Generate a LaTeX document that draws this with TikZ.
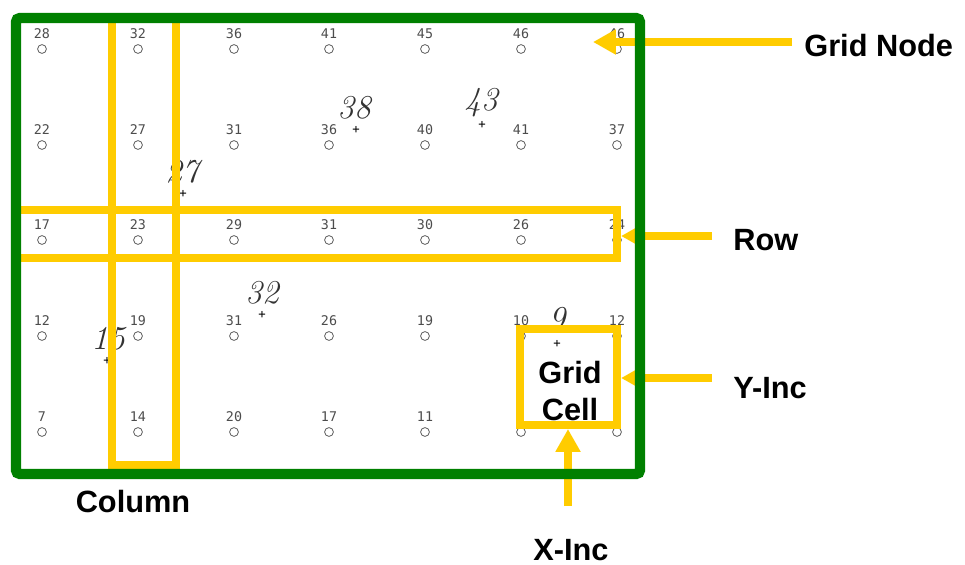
\documentclass[tikz,border=0pt]{standalone}
\usepackage{fontspec}
\usepackage{tikz}
\usetikzlibrary{arrows.meta,positioning}
\newfontfamily\labelfont{Liberation Sans}
\newfontfamily\gridfont{DejaVu Sans Mono}
\definecolor{framegreen}{RGB}{0,128,0}
\definecolor{markyellow}{RGB}{255,204,0}

\tikzset{
  gnode/.style={circle,draw=black!70,thin,inner sep=0pt,minimum size=5pt},
  glabel/.style={font=\gridfont\fontsize{7.6}{8}\selectfont,text=black!70,inner sep=0.5pt,label distance=2.5pt},
  estim/.style={font=\fontsize{19}{19}\selectfont\itshape,text=black!80,inner sep=0pt},
  cross/.style={font=\gridfont\fontsize{7}{7}\selectfont,inner sep=0pt},
  hilite/.style={draw=markyellow,line width=4.5pt},
  pointer/.style={draw=markyellow,line width=4.5pt,-{Triangle[length=13pt,width=13.5pt]}},
  tag/.style={font=\labelfont\bfseries\fontsize{17.5}{21}\selectfont,inner sep=0pt},
}

\begin{document}
\begin{tikzpicture}[x=0.02cm,y=-0.02cm]
        \useasboundingbox (0,0) rectangle (965,565);
        %Grid nodes
        \node[gnode,label={[glabel]above:28}] (n11) at (42,49) {};
        \node[gnode,label={[glabel]above:32}] (n12) at (138,49) {};
        \node[gnode,label={[glabel]above:36}] (n13) at (234,49) {};
        \node[gnode,label={[glabel]above:41}] (n14) at (329,49) {};
        \node[gnode,label={[glabel]above:45}] (n15) at (425,49) {};
        \node[gnode,label={[glabel]above:46}] (n16) at (521,49) {};
        \node[gnode,label={[glabel]above:46}] (n17) at (617,49) {};
        \node[gnode,label={[glabel]above:22}] (n21) at (42,145) {};
        \node[gnode,label={[glabel]above:27}] (n22) at (138,145) {};
        \node[gnode,label={[glabel]above:31}] (n23) at (234,145) {};
        \node[gnode,label={[glabel]above:36}] (n24) at (329,145) {};
        \node[gnode,label={[glabel]above:40}] (n25) at (425,145) {};
        \node[gnode,label={[glabel]above:41}] (n26) at (521,145) {};
        \node[gnode,label={[glabel]above:37}] (n27) at (617,145) {};
        \node[gnode,label={[glabel]above:17}] (n31) at (42,240) {};
        \node[gnode,label={[glabel]above:23}] (n32) at (138,240) {};
        \node[gnode,label={[glabel]above:29}] (n33) at (234,240) {};
        \node[gnode,label={[glabel]above:31}] (n34) at (329,240) {};
        \node[gnode,label={[glabel]above:30}] (n35) at (425,240) {};
        \node[gnode,label={[glabel]above:26}] (n36) at (521,240) {};
        \node[gnode,label={[glabel]above:24}] (n37) at (617,240) {};
        \node[gnode,label={[glabel]above:12}] (n41) at (42,336) {};
        \node[gnode,label={[glabel]above:19}] (n42) at (138,336) {};
        \node[gnode,label={[glabel]above:31}] (n43) at (234,336) {};
        \node[gnode,label={[glabel]above:26}] (n44) at (329,336) {};
        \node[gnode,label={[glabel]above:19}] (n45) at (425,336) {};
        \node[gnode,label={[glabel]above:10}] (n46) at (521,336) {};
        \node[gnode,label={[glabel]above:12}] (n47) at (617,336) {};
        \node[gnode,label={[glabel]above:7}] (n51) at (42,432) {};
        \node[gnode,label={[glabel]above:14}] (n52) at (138,432) {};
        \node[gnode,label={[glabel]above:20}] (n53) at (234,432) {};
        \node[gnode,label={[glabel]above:17}] (n54) at (329,432) {};
        \node[gnode,label={[glabel]above:11}] (n55) at (425,432) {};
        \node[gnode,label={[glabel]above:6}] (n56) at (521,432) {};
        \node[gnode,label={[glabel]above:5}] (n57) at (617,432) {};
        %Estimates
        \node[estim] (e1) at (354,108) {38};
        \node[cross] (c1) at (356,130) {+};
        \node[estim] (e2) at (481,103) {43};
        \node[cross] (c2) at (482,125) {+};
        \node[estim] (e3) at (182,172) {27};
        \node[cross] (c3) at (183,194) {+};
        \node[estim] (e4) at (262,293) {32};
        \node[cross] (c4) at (262,315) {+};
        \node[estim] (e5) at (108,339) {15};
        \node[cross] (c5) at (107,361) {+};
        \node[estim] (e6) at (557,319) {9};
        \node[cross] (c6) at (557,344) {+};
        %Column, row and cell
        \draw[hilite] (112,18) rectangle (176,465);
        \draw[hilite] (16,210) rectangle (617,258);
        \node[tag,align=center] (celltext) at (570,391) {Grid\\Cell};
        \node[hilite,minimum width=55pt,minimum height=54.5pt,inner sep=0pt] (cell) at (568.5,377) {};
        %Arrows
        \coordinate (gnTail) at (792,42);
        \coordinate (gnTip) at (593,42);
        \coordinate (rowTail) at (712,236);
        \coordinate (rowTip) at (621,236);
        \coordinate (yTail) at (712,378);
        \coordinate (yTip) at (621,378);
        \coordinate (xTail) at (568,506);
        \coordinate (xTip) at (568,429);
        \draw[pointer] (gnTail) -- (gnTip);
        \draw[pointer] (rowTail) -- (rowTip);
        \draw[pointer] (yTail) -- (yTip);
        \draw[pointer] (xTail) -- (xTip);
        %Frame
        \draw[framegreen,line width=5.7pt,rounded corners=2pt] (16,18) rectangle (640,474);
        %Labels
        \node[tag,anchor=west] (gridnode) at (804,46) {Grid Node};
        \node[tag,anchor=west] (row) at (733,240) {Row};
        \node[tag,anchor=west] (yinc) at (733,388) {Y-Inc};
        \node[tag] (column) at (133,502) {Column};
        \node[tag] (xinc) at (571,550) {X-Inc};
      \end{tikzpicture}
\end{document}
